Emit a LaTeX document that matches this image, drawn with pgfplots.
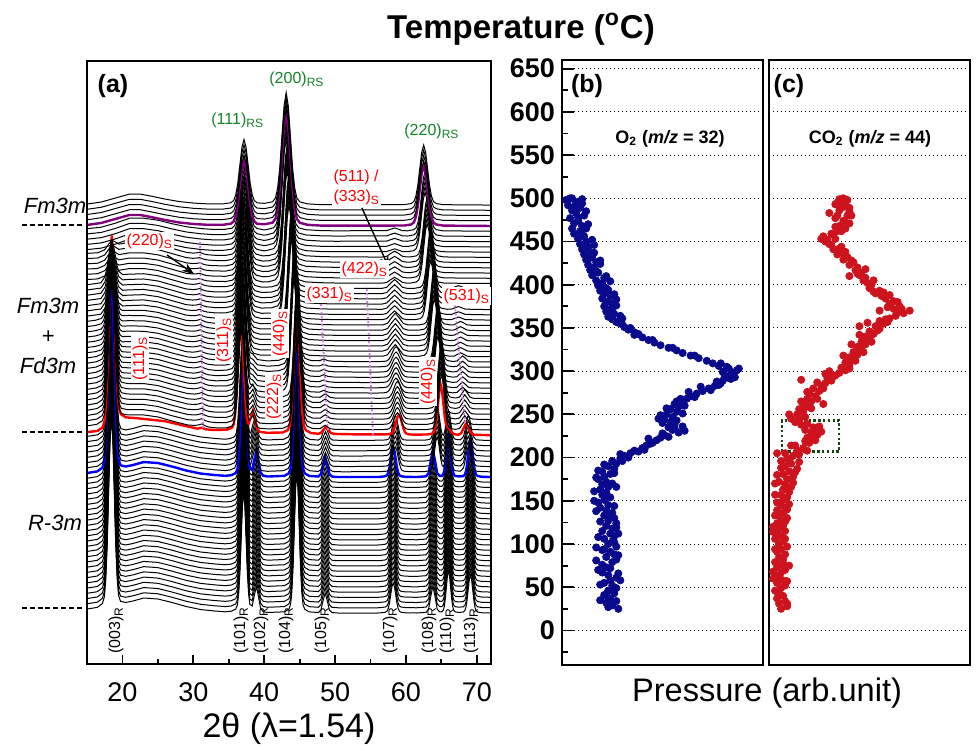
\documentclass[border=0pt]{standalone}
\usepackage{pgfplots}
\pgfplotsset{compat=1.18}
\usepackage{pgfplotstable}
\usepackage{fontspec}
\setmainfont{Liberation Sans}
\usetikzlibrary{arrows.meta}
\definecolor{navyO}{RGB}{10,10,140}
\definecolor{redC}{RGB}{205,20,30}
\definecolor{rsgreen}{RGB}{20,130,40}
\definecolor{guide}{RGB}{205,120,225}
\definecolor{purp}{RGB}{128,0,128}
\definecolor{boxg}{RGB}{20,70,20}

% ---- XRD profiles (height above each pattern's offset, in px-units) ----
\pgfplotstableread{
x y
15 4
16.45 5.6
17.17 9.4
17.45 16.1
17.65 33.3
17.85 67.6
18.05 121
18.25 172
18.45 195
18.65 172
18.85 121.5
19.05 68.4
19.25 34.4
19.45 17.7
19.73 11.7
20.45 10.5
21.5 12
23 15
25 14
27 10.5
29 6.5
31 3.5
33 2
34.5 1.2
35.35 1.8
35.98 3.9
36.225 8.1
36.4 18.9
36.575 40.5
36.75 74
36.925 106.5
37.1 120.9
37.275 106.5
37.45 74
37.625 40.5
37.8 18.9
37.975 8.8
38.3 7
38.6 17.3
38.9 26.5
39.2 16
39.5 4.5
39.86 1.3
40.5 0.5
42.85 1.2
43.48 3.7
43.725 8.6
43.9 21.2
44.075 46.4
44.25 85.6
44.425 123.4
44.6 140.2
44.775 123.4
44.95 85.6
45.125 46.4
45.3 21.2
45.475 8.6
45.72 3.7
46.35 1.1
47.64 0.5
48 3
48.3 12.2
48.6 20
48.9 12.2
49.2 3
49.56 0.5
50.4 0
56 0
56.45 0.2
57.08 0.75
57.325 1.8
57.5 4.5
57.675 9.9
57.85 18.3
58.025 26.4
58.2 30
58.375 26.4
58.55 18.3
58.725 9.9
58.9 4.5
59.075 1.8
59.32 0.75
59.95 0.2
61.5 0
62.84 0.7
63.2 4
63.5 16.5
63.8 27
64.1 16.5
64.4 4
64.76 1.1
65.04 1.1
65.25 2.5
65.4 6.3
65.55 13.9
65.7 25.6
65.85 37
66 42
66.15 37
66.3 25.6
66.45 13.9
66.6 6.3
66.75 2.5
66.96 1.05
67.5 0.6
68.08 0.95
68.3 2.3
68.46 5.7
68.62 12.5
68.78 23.2
68.94 33.4
69.1 38
69.26 33.4
69.42 23.2
69.58 12.5
69.74 5.7
69.9 2.3
70.12 0.95
70.7 0.27
72 0
}\PA
\pgfplotstableread{
x y
15 4
16.5 5.6
17.22 9.4
17.5 16.1
17.7 33.3
17.9 67.6
18.1 121
18.3 172
18.5 195
18.7 172
18.9 121.5
19.1 68.4
19.3 34.4
19.5 17.7
19.78 11.7
20.5 10.5
21.5 12
23 15
25 14
27 10.5
29 6.5
31 3.5
33 2
34.5 1.2
35.15 1.8
35.816 3.7
36.075 7.5
36.26 17.4
36.445 37.2
36.63 68
36.815 97.7
37 110.9
37.185 97.7
37.37 68
37.555 37.2
37.74 17.9
37.925 8.5
38.1 7.4
38.4 15.8
38.7 23.6
39 14.7
39.3 4
39.66 1.2
40.5 0.5
42.75 1.1
43.416 3.5
43.675 8
43.86 19.7
44.045 43.1
44.23 79.5
44.415 114.6
44.6 130.2
44.785 114.6
44.97 79.5
45.155 43.1
45.34 19.7
45.525 8
45.784 3.5
46.45 1
47.63 0.35
48.01 2.1
48.33 8.5
48.65 14
48.97 8.5
49.29 2.1
49.67 0.35
51 0
56.6 0.2
57.284 0.6
57.55 1.5
57.74 3.75
57.93 8.25
58.12 15.25
58.31 22
58.5 25
58.69 22
58.88 15.25
59.07 8.25
59.26 3.75
59.45 1.5
59.716 0.6
60.4 0.2
62.65 0.25
63.28 0.9
63.525 2.1
63.7 5.25
63.875 11.55
64.05 21.35
64.225 30.8
64.4 35
64.575 30.8
64.75 21.35
64.925 12.2
65.1 6.5
65.275 5.1
65.36 6.3
65.52 10.8
65.68 18.8
65.84 26.7
66 30.2
66.16 26.4
66.32 18.3
66.48 9.9
66.64 4.5
66.8 1.8
67.02 1
67.68 0.6
68.1 3.75
68.275 8.25
68.45 15.25
68.625 22
68.8 25
68.975 22
69.15 15.25
69.325 8.25
69.5 3.75
69.92 0.6
71 0.1
72 0
}\PB
\pgfplotstableread{
x y
15 3
16.5 4.3
17.22 8
17.5 14.9
17.7 33.2
17.9 68.7
18.1 123
18.3 175.5
18.5 199.7
18.7 178
18.9 128
19.1 76
19.3 43
19.5 27.4
19.78 21
20.5 17.8
22 17
26 14
29 9
30.6 6.5
31.2 7.5
31.8 5.8
33 5.2
34.7 5.5
35.42 7.2
35.7 10.9
35.9 20.7
36.1 40.4
36.3 71.2
36.5 100.8
36.7 114
36.9 100.8
37.1 71.1
37.3 40.2
37.5 20.8
37.7 11.8
37.8 11.5
38.1 17.5
38.4 24.3
38.7 15.8
39 6.3
39.36 3.4
40.4 2.4
42.6 2.7
43.32 5
43.6 9.4
43.8 21.1
44 44.5
44.2 80.9
44.4 115.9
44.6 131.5
44.8 115.9
45 80.9
45.2 44.5
45.4 21
45.6 9.3
45.88 4.9
46.6 2.2
47.58 1.4
48 2.2
48.35 5.5
48.7 8.2
49.05 5.5
49.4 2.2
49.82 1.3
53 0.8
56.9 0.75
57.656 1
57.95 1.7
58.16 3.5
58.37 7.1
58.58 12.7
58.79 18
59 20.4
59.21 18
59.42 12.6
59.63 7
59.84 3.4
60.05 1.6
60.344 0.9
61.1 0.5
63 0.7
63.684 1.55
63.95 3.3
64.14 7.8
64.33 16.8
64.52 30.8
64.71 44.3
64.9 50.3
65.09 44.3
65.28 31.5
65.47 18.4
65.66 10.8
65.85 7.9
66.116 6.2
66.4 3.4
66.8 1
67.38 0.4
67.8 1.9
68.15 7.4
68.5 12.1
68.85 7.4
69.2 1.9
69.62 0.4
72 0
}\PC
\pgfplotstableread{
x y
15 4
16.4 5.7
17.156 9.2
17.45 15.3
17.66 29.3
17.87 56.9
18.08 99.5
18.29 140.6
18.5 159.2
18.71 141.8
18.92 101.9
19.13 60.5
19.34 34.1
19.55 21.1
19.844 16.4
20.6 15.2
21 15
23 15
25 13
27 9
29.2 5
30.2 4.5
30.7 5
31.2 6
31.7 4.1
32.2 2.9
33.2 2.1
34.7 2.2
35.456 3.9
35.75 7.4
35.96 16.4
36.17 34.3
36.38 62.3
36.59 89.3
36.8 101.3
37.01 89.3
37.22 62.3
37.43 34.3
37.64 16.9
37.85 9.5
38.1 11.2
38.4 14.6
38.7 9.3
39 3.5
39.36 1.7
40.6 1
42.6 1.7
43.356 3.9
43.65 8.3
43.86 19.6
44.07 42
44.28 77
44.49 110.8
44.7 125.8
44.91 110.8
45.12 77
45.33 42
45.54 19.6
45.75 8.3
46.044 3.8
46.8 1.5
47.9 1.3
48.25 3.1
48.6 4.7
48.95 3.1
49.3 1.3
50 0.5
56.4 0.3
57.264 0.6
57.6 1.2
57.84 2.7
58.08 5.8
58.32 10.5
58.56 15.1
58.8 17.2
59.04 15.1
59.28 10.5
59.52 5.8
59.76 2.7
60 1.2
60.336 0.6
61.2 0.3
63 0.4
63.72 1.4
64 3.3
64.2 8.3
64.4 18.2
64.6 33.6
64.8 48.4
65 55.1
65.2 48.4
65.4 33.6
65.6 18.2
65.8 8.3
66 3.3
66.28 1.4
67 0.6
67.56 1.5
67.93 5.5
68.3 9.1
68.67 5.5
69.04 1.4
69.5 0.3
72 0
}\PD
\pgfplotstableread{
x y
15 4
16.3 5.4
17.092 7.9
17.4 12.4
17.62 22.5
17.84 42
18.06 72
18.28 101
18.5 114.2
18.72 102.2
18.94 74.4
19.16 45.8
19.38 27.5
19.6 18.6
19.908 15.5
20.7 15.1
23 15
25 13
27 9
29.2 5
30.1 4.5
30.6 5
31.1 6
31.6 4.1
32.1 2.9
33.1 2.1
34.65 2.2
35.46 3.8
35.775 7.1
36 15.6
36.225 32.7
36.45 59.3
36.675 84.9
36.9 96.3
37.125 84.9
37.35 59.3
37.575 32.7
37.8 16.3
38.025 9.4
38.4 8
38.72 5.1
39.04 2.4
40.5 1
42.05 1.7
42.86 3.8
43.175 8
43.4 18.8
43.625 40.4
43.85 74
44.075 106.4
44.3 120.8
44.525 106.4
44.75 74
44.975 40.4
45.2 18.8
45.425 8
45.74 3.7
46.55 1.5
47.8 1.2
48.4 3
49 1.2
50 0.5
56 0.3
56.936 0.6
57.3 1.1
57.56 2.45
57.82 5.2
58.08 9.4
58.34 13.4
58.6 15.2
58.86 13.4
59.12 9.4
59.38 5.2
59.64 2.45
59.9 1.1
60.264 0.6
61.2 0.3
62.4 0.4
63.156 1.4
63.45 3.4
63.66 8.6
63.87 18.8
64.08 34.8
64.29 50.2
64.5 57.1
64.71 50.2
64.92 34.8
65.13 18.8
65.34 8.6
65.55 3.4
65.844 1.4
66.6 0.5
67.2 0.9
67.6 3.7
68 6
68.4 3.7
68.8 0.9
69.3 0.2
72 0
}\PE
\pgfplotstableread{
x y
15 4
16.2 5.1
17.028 6.9
17.35 10.2
17.58 17.1
17.81 30.4
18.04 50.6
18.27 70.2
18.5 79.2
18.73 71.4
18.96 53.2
19.19 34.2
19.42 22.3
19.65 16.6
19.972 14.9
20.8 15.1
23 15
25 13
27 9
29 5
30 4.6
30.5 5
31 6
31.5 4.1
32 3
33 2.1
34.6 2.1
35.464 3.7
35.8 6.8
36.04 14.8
36.28 31
36.52 56.2
36.76 80.5
37 91.3
37.24 80.5
37.48 56.2
37.72 31
37.96 14.7
38.2 6.6
38.536 3.4
39.4 1.7
41.5 1.6
42.364 3.8
42.7 7.9
42.94 18.5
43.18 39.7
43.42 72.8
43.66 104.6
43.9 118.7
44.14 104.6
44.38 72.8
44.62 39.7
44.86 18.5
45.1 7.9
45.436 3.7
46.3 1.5
48 0.9
50 0.5
56.74 0.5
57.4 2
57.95 7.5
58.5 12.2
59.05 7.5
59.6 2
60.26 0.5
61.8 0.4
62.592 1.45
62.9 3.5
63.12 8.7
63.34 19.1
63.56 35.4
63.78 51
64 58
64.22 51
64.44 35.4
64.66 19.1
64.88 8.7
65.1 3.5
65.408 1.45
66.2 0.5
66.8 0.6
67.25 2.4
67.7 4
68.15 2.4
68.6 0.6
69.2 0.1
72 0
}\PF
\pgfplotstableread{
x y
15 4
16.964 5.9
17.54 12.2
17.78 19.7
18.02 31
18.26 41.9
18.5 47.2
18.74 43.3
18.98 33.7
19.22 23.7
19.46 17.6
20.036 14.1
20.74 14.5
23 15
25 13
27 9
29 5
29.9 4.4
30.4 4.6
30.9 5.5
31.4 3.9
31.9 2.9
33 2.1
34.6 2.1
35.5 3.5
35.85 6.5
36.1 14.1
36.35 29.3
36.6 53.2
36.85 76.1
37.1 86.3
37.35 76.1
37.6 53.2
37.85 29.3
38.1 14.1
38.35 6.3
38.7 3.3
39.6 1.6
41 1.8
41.9 3.8
42.25 7.8
42.5 18.2
42.75 38.9
43 71.1
43.25 102.1
43.5 115.9
43.75 102.1
44 71.1
44.25 38.9
44.5 18.2
44.75 7.8
45.1 3.7
46 1.6
48 0.8
50 0.5
56.64 0.4
57.3 1.5
57.85 5.7
58.4 9.2
58.95 5.7
59.5 1.5
60.16 0.4
61.2 0.4
62.028 1.5
62.35 3.6
62.58 9
62.81 19.8
63.04 36.6
63.27 52.8
63.5 60
63.73 52.8
63.96 36.6
64.19 19.8
64.42 9
64.65 3.6
64.972 1.5
65.8 0.4
66.44 0.5
66.92 1.9
67.4 3.1
67.88 1.9
68.36 0.5
72 0
}\PG
\pgfplotstableread{
x y
15 4
16.5 4.6
17.5 7.6
18 12.7
18.5 17.2
19 15.5
19.5 13.2
21 15
23 15
25 13
27 9
29 5
29.9 4.3
30.4 4.4
30.9 5
31.4 3.6
31.9 2.7
33 2.1
34.6 2
35.536 3.4
35.9 6.1
36.16 13
36.42 27
36.68 48.9
36.94 69.9
37.2 79.3
37.46 69.9
37.72 48.9
37.98 27
38.24 13
38.5 5.9
38.864 3.2
39.8 1.5
40.65 1.8
41.586 3.7
41.95 7.6
42.21 17.7
42.47 37.9
42.73 69.2
42.99 99.5
43.25 112.9
43.51 99.5
43.77 69.2
44.03 37.9
44.29 17.7
44.55 7.6
44.914 3.7
45.85 1.6
48 0.8
50 0.5
56.64 0.3
57.3 1.1
57.85 3.9
58.4 6.2
58.95 3.9
59.5 1.1
60.16 0.4
60.6 0.4
61.464 1.5
61.8 3.6
62.04 9
62.28 19.8
62.52 36.6
62.76 52.8
63 60
63.24 52.8
63.48 36.6
63.72 19.8
63.96 9
64.2 3.6
64.536 1.5
65.4 0.4
68 0.2
72 0
}\PH
\pgfplotstableread{
x y
15 2.5
17 4
19 8
21 13
23 13
25 11
27 7.5
29 4.5
31 2.7
33 1.7
34.45 1.9
35.44 3
35.825 5.5
36.1 11.9
36.375 24.9
36.65 45
36.925 64.5
37.2 73.1
37.475 64.5
37.75 45
38.025 24.9
38.3 11.9
38.575 5.3
38.96 2.8
39.95 1.3
40.35 1.6
41.34 3.5
41.725 7.4
42 17.5
42.275 37.7
42.55 69
42.825 99.3
43.1 112.7
43.375 99.3
43.65 69
43.925 37.7
44.2 17.5
44.475 7.4
44.86 3.5
45.85 1.5
48 0.6
50 0.4
57.3 0.6
57.85 2
58.4 3.3
58.95 2
59.5 0.6
60.2 0.4
61.1 1.5
61.45 3.6
61.7 9
61.95 19.8
62.2 36.6
62.45 52.8
62.7 60
62.95 52.8
63.2 36.6
63.45 19.8
63.7 9
63.95 3.6
64.3 1.5
65.2 0.4
68 0.2
72 0
}\PI
\pgfplotstableread{
x y
15 1
17 3
19 7
21 11
22.5 11
24 9
26 6
28 3.5
30 2
32 1.2
34.25 1.25
35.294 2.3
35.7 4.6
35.99 10.4
36.28 22.1
36.57 40.3
36.86 57.8
37.15 65.6
37.44 57.8
37.73 40.3
38.02 22.1
38.31 10.4
38.6 4.5
39.006 2.2
40.05 1.7
41.18 3.3
41.6 7.2
41.9 17.3
42.2 37.5
42.5 68.8
42.8 99.1
43.1 112.5
43.4 99.1
43.7 68.8
44 37.5
44.3 17.3
44.6 7.2
45.02 3.2
46.1 1.2
48 0.4
50 0.3
59.75 0.45
60.74 1.5
61.125 3.6
61.4 9
61.675 19.8
61.95 36.6
62.225 52.8
62.5 60
62.775 52.8
63.05 36.6
63.325 19.8
63.6 9
63.875 3.6
64.26 1.5
65.25 0.4
68 0.2
72 0
}\PJ

% ---- mass-spec data: x = pressure (arb.), y = temperature ----
\pgfplotstableread{
x y
28 25
23 27
25 29
25 30
22 32
27 34
19 35
24 37
21 41
22 40
26 43
23 46
26 47
27 49
25 52
19 53
21 55
24 58
29 58
27 61
23 64
28 66
20 67
18 70
24 72
22 73
20 76
25 79
17 81
27 82
22 85
26 88
28 87
24 91
20 93
21 94
17 96
27 97
23 100
26 102
25 103
21 106
18 108
26 109
24 112
28 112
20 115
25 118
27 119
22 121
27 124
19 126
23 127
26 130
24 132
21 133
25 136
17 138
22 139
19 142
26 144
23 145
18 148
16 150
21 151
24 154
22 156
20 157
22 160
16 161
19 163
23 166
27 166
20 169
25 170
22 172
18 175
17 177
21 178
24 181
26 182
20 184
18 185
26 187
23 190
21 192
27 193
25 196
30 196
29 199
33 200
31 202
29 204
34 205
36 208
38 207
41 209
40 211
42 214
44 216
45 217
47 220
43 222
49 223
53 224
51 226
50 228
58 229
61 231
55 232
56 234
53 235
60 236
56 238
50 240
54 241
57 243
51 244
48 245
55 247
49 249
52 250
60 251
57 253
54 256
52 257
58 259
61 260
56 262
60 265
57 265
62 268
59 268
66 270
64 271
67 274
63 276
70 277
74 278
73 280
69 282
76 283
78 284
79 286
80 289
77 288
84 291
83 292
86 293
81 295
84 296
85 298
80 299
87 301
83 303
88 303
82 305
78 306
75 309
79 309
72 312
68 315
64 318
66 318
60 321
57 324
53 327
55 327
49 330
46 333
43 336
45 336
40 339
36 342
38 343
36 345
33 348
34 350
31 351
30 354
28 356
27 357
25 360
30 361
23 363
29 364
26 366
22 369
25 370
24 372
21 375
27 376
25 378
22 380
23 381
27 383
20 384
24 387
26 389
21 390
19 393
23 394
22 396
18 399
20 398
20 402
24 404
17 405
21 408
22 410
15 411
18 414
17 416
14 417
16 420
13 423
19 424
17 426
19 428
12 429
14 431
15 432
11 435
16 437
14 438
10 441
12 442
13 444
16 446
9 447
12 450
15 452
8 453
11 456
10 458
6 459
9 462
5 465
12 465
10 468
13 470
6 471
8 474
4 477
8 478
11 480
7 483
12 485
5 486
9 489
6 490
3 492
10 494
7 495
8 496
2 498
10 499
5 500
4 500
}\Otwo
\pgfplotstableread{
x y
6 25
9 28
5 31
9 31
8 34
4 37
7 40
5 43
4 45
3 46
6 49
8 52
4 55
9 57
7 58
2 60
5 61
3 64
6 67
2 68
8 70
4 73
10 75
6 76
7 78
3 79
7 82
5 85
8 88
4 91
3 94
6 94
9 97
5 100
7 103
3 106
8 106
6 109
4 112
2 114
8 115
5 118
2 120
7 121
4 124
8 126
6 127
9 130
5 133
3 133
7 136
4 139
9 140
8 142
6 145
10 146
4 148
7 151
9 154
6 157
3 157
10 160
7 163
9 165
11 166
3 170
8 169
12 171
5 172
9 175
12 178
4 180
7 181
13 183
10 184
14 187
6 188
8 190
11 193
15 195
6 196
10 197
9 199
12 202
4 205
15 204
8 205
14 208
19 208
17 211
11 214
13 214
20 217
18 219
23 220
19 223
24 226
21 224
21 229
26 230
18 232
23 233
22 235
25 236
16 238
19 239
13 241
15 244
11 245
18 247
10 250
14 250
15 252
17 253
15 256
21 257
19 259
17 262
27 262
21 265
16 265
19 268
24 268
23 271
20 274
19 276
25 277
22 280
27 280
26 283
28 286
24 287
31 289
16 290
29 292
32 294
33 295
28 297
35 298
30 300
38 301
40 303
36 304
40 307
38 310
43 312
42 313
40 316
37 318
44 319
42 322
47 322
46 325
44 328
48 331
41 331
46 334
51 334
50 337
48 340
45 342
52 343
50 346
54 347
55 349
45 352
53 352
57 355
49 356
59 357
55 358
58 360
60 361
63 364
67 367
64 368
70 370
55 370
62 372
66 372
59 374
65 375
60 378
64 380
62 381
58 384
56 387
60 388
53 390
57 391
52 392
55 393
50 396
50 399
51 400
49 402
47 405
52 405
48 408
40 410
45 411
44 413
46 414
43 417
48 418
44 420
40 423
42 426
41 428
37 429
39 432
34 435
37 436
38 438
32 441
35 442
36 444
31 446
30 447
28 450
29 452
26 453
33 453
27 456
31 459
32 458
34 462
36 462
38 465
33 467
35 468
40 471
38 472
37 474
33 477
39 480
34 480
41 480
30 483
35 486
40 485
40 489
37 490
36 492
33 493
34 495
38 495
39 498
35 499
37 500
}\COtwo

\tikzset{wf/.style={black, line width=0.5pt},
  redlab/.style={text=red, font=\fontsize{8}{9}\selectfont, inner sep=0.6pt, fill=white},
  blklab/.style={font=\fontsize{8}{9}\selectfont, inner sep=0pt, rotate=90, anchor=west},
  grlab/.style={text=rsgreen, font=\fontsize{8}{9}\selectfont, inner sep=0pt, anchor=west},
  phase/.style={font=\fontsize{11}{12}\selectfont\itshape},
  phdash/.style={line width=1pt, dash pattern=on 2.5pt off 1.4pt},
  gline/.style={guide, line width=0.9pt, dash pattern=on 1pt off 1pt}}

\begin{document}
\begin{tikzpicture}
\useasboundingbox (0pt,0pt) rectangle (488.5pt,-376.5pt);

% ================= panel (a) =================
\begin{axis}[at={(43.5pt,-332pt)}, anchor=south west, scale only axis,
  width=202pt, height=301.5pt,
  xmin=15, xmax=72, ymin=0, ymax=603,
  xtick={20,30,...,70}, minor xtick={25,35,...,65}, ytick=\empty,
  xtick pos=left, tick align=inside,
  major tick length=4.5pt, minor tick length=2.5pt,
  tick style={black, line width=0.9pt},
  axis line style={line width=1.2pt},
  axis on top,
  xticklabel style={font=\fontsize{13.5}{14}\selectfont, yshift=-6pt},
  /pgf/number format/assume math mode=true]
\pgfplotsinvokeforeach{0,...,25}{\addplot[wf] table[x=x, y expr=\thisrow{y}+51+5.23*#1]{\PA};}
\addplot[blue, line width=1.2pt] table[x=x, y expr=\thisrow{y}+51+5.23*26]{\PA};
\pgfplotsinvokeforeach{27,...,33}{\addplot[wf] table[x=x, y expr=\thisrow{y}+51+5.23*#1]{\PB};}
\addplot[red, line width=1.2pt] table[x=x, y expr=\thisrow{y}+51+5.23*34]{\PC};
\pgfplotsinvokeforeach{35,...,41}{\addplot[wf] table[x=x, y expr=\thisrow{y}+51+5.23*#1]{\PD};}
\pgfplotsinvokeforeach{42,...,48}{\addplot[wf] table[x=x, y expr=\thisrow{y}+51+5.23*#1]{\PE};}
\pgfplotsinvokeforeach{49,...,55}{\addplot[wf] table[x=x, y expr=\thisrow{y}+51+5.23*#1]{\PF};}
\pgfplotsinvokeforeach{56,...,62}{\addplot[wf] table[x=x, y expr=\thisrow{y}+51+5.23*#1]{\PG};}
\pgfplotsinvokeforeach{63,...,68}{\addplot[wf] table[x=x, y expr=\thisrow{y}+51+5.23*#1]{\PH};}
\pgfplotsinvokeforeach{69,...,73}{\addplot[wf] table[x=x, y expr=\thisrow{y}+51+5.23*#1]{\PI};}
\addplot[purp, line width=1.2pt] table[x=x, y expr=\thisrow{y}+51+5.23*74]{\PJ};
\pgfplotsinvokeforeach{75,...,78}{\addplot[wf] table[x=x, y expr=\thisrow{y}+51+5.23*#1]{\PJ};}
\end{axis}

% ================= panel (b) =================
\begin{axis}[at={(281pt,-332.5pt)}, anchor=south west, scale only axis,
  width=100.5pt, height=302.5pt,
  xmin=0, xmax=100, ymin=-40, ymax=660,
  xtick=\empty, ytick={0,50,...,650}, minor ytick={-25,25,...,625},
  ytick pos=left, tick align=inside,
  major tick length=6pt, minor tick length=3pt,
  tick style={black, line width=0.9pt},
  ymajorgrids, grid style={black, line width=0.5pt, dash pattern=on 0.6pt off 1.4pt},
  axis line style={line width=1.2pt},
  yticklabel style={font=\fontsize{13.5}{14}\selectfont\bfseries},
  /pgf/number format/assume math mode=true]
\addplot[only marks, mark=*, mark size=1.8pt, navyO, mark options={fill=navyO, draw=navyO}] table[x=x,y=y]{\Otwo};
\end{axis}

% ================= panel (c) =================
\begin{axis}[at={(384.5pt,-332.5pt)}, anchor=south west, scale only axis,
  width=100.5pt, height=302.5pt,
  xmin=0, xmax=100, ymin=-40, ymax=660,
  xtick=\empty, ytick={0,50,...,650}, yticklabels={},
  major tick length=0pt,
  ymajorgrids, grid style={black, line width=0.5pt, dash pattern=on 0.6pt off 1.4pt},
  axis line style={line width=1.2pt}]
\addplot[only marks, mark=*, mark size=1.8pt, redC, mark options={fill=redC, draw=redC}] table[x=x,y=y]{\COtwo};
\draw[boxg, line width=1.1pt, dash pattern=on 1.2pt off 1.2pt] (axis cs:6.5,207) rectangle (axis cs:35,243);
\end{axis}

\begin{scope}[x=0.5pt,y=-0.5pt]
% guide lines (spinel reflections)
\draw[gline] (203,428) -- (200,240);
\draw[gline] (327.7,430) -- (321,303);
\draw[gline] (373,435) -- (366.7,287);
\draw[gline] (465,423) -- (455,305);

% arrows
\draw[-{Stealth[length=6pt,width=4.5pt]}, line width=0.7pt] (167,255) -- (194,274);
\draw[-{Stealth[length=6pt,width=4.5pt]}, line width=0.7pt] (362,208) -- (389,268);

% labels panel (a)
\node[font=\fontsize{12.5}{14}\selectfont\bfseries] at (113,86) {(a)};
\node[grlab] at (211,120) {(111)\textsubscript{RS}};
\node[grlab] at (269,79) {(200)\textsubscript{RS}};
\node[grlab] at (404,131) {(220)\textsubscript{RS}};
\node[redlab, anchor=west] at (125,241) {(220)\textsubscript{S}};
\node[redlab, anchor=west, fill=none] at (332,177) {(511) /};
\node[redlab, anchor=west] at (332,197) {(333)\textsubscript{S}};
\node[redlab, anchor=west] at (340,269) {(422)\textsubscript{S}};
\node[redlab, anchor=west] at (305,294) {(331)\textsubscript{S}};
\node[redlab, anchor=west] at (442,296) {(531)\textsubscript{S}};
\node[redlab, rotate=90, anchor=west] at (140,382) {(111)\textsubscript{S}};
\node[redlab, rotate=90, anchor=west] at (224,364) {(311)\textsubscript{S}};
\node[redlab, rotate=90, anchor=west] at (280,358) {(440)\textsubscript{S}};
\node[redlab, rotate=90, anchor=west] at (274,421) {(222)\textsubscript{S}};
\node[redlab, rotate=90, anchor=west] at (428,406) {(440)\textsubscript{S}};

\node[blklab] at (116,654) {(003)\textsubscript{R}};
\node[blklab] at (241,654) {(101)\textsubscript{R}};
\node[blklab] at (261,654) {(102)\textsubscript{R}};
\node[blklab] at (286,654) {(104)\textsubscript{R}};
\node[blklab] at (322,654) {(105)\textsubscript{R}};
\node[blklab] at (390,654) {(107)\textsubscript{R}};
\node[blklab] at (429,654) {(108)\textsubscript{R}};
\node[blklab] at (447,654) {(110)\textsubscript{R}};
\node[blklab] at (471,654) {(113)\textsubscript{R}};

\node[phase] at (55,206) {Fm3m};
\draw[phdash] (22,225) -- (83,225);
\node[phase] at (48,306) {Fm3m};
\node[phase] at (48,337) {+};
\node[phase] at (48,366) {Fd3m};
\draw[phdash] (22,432) -- (83,432);
\node[phase] at (55,523) {R-3m};
\draw[phdash] (22,608) -- (83,608);

\node[font=\fontsize{17}{19}\selectfont] at (289,729) {2θ (λ=1.54)};

\node[font=\fontsize{12.5}{14}\selectfont\bfseries] at (587,86) {(b)};
\node[font=\fontsize{12.5}{14}\selectfont\bfseries] at (789,86) {(c)};
\node[font=\fontsize{9}{10}\selectfont\bfseries] at (670,139) {O\textsubscript{2} (\textit{m/z} = 32)};
\node[font=\fontsize{9}{10}\selectfont\bfseries] at (870,139) {CO\textsubscript{2} (\textit{m/z} = 44)};
\node[font=\fontsize{16.5}{18}\selectfont\bfseries] at (521,29) {Temperature (\textsuperscript{o}C)};
\node[font=\fontsize{16.3}{18}\selectfont] at (767,693) {Pressure (arb.unit)};
\end{scope}
\end{tikzpicture}
\end{document}
